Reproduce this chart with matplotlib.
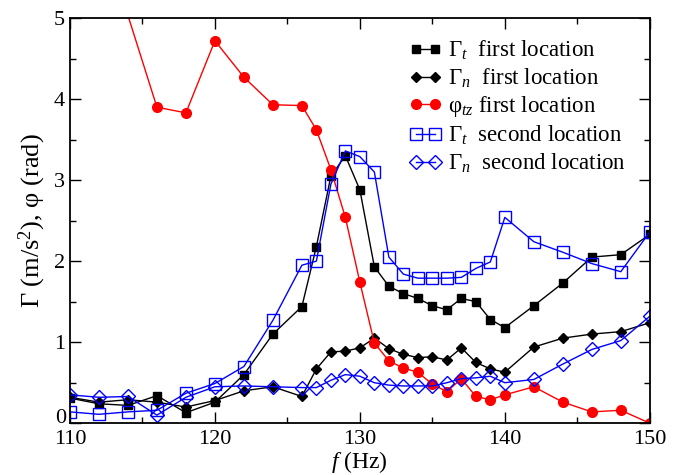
import numpy as np
import matplotlib
matplotlib.use('Agg')
import matplotlib.pyplot as plt
from matplotlib.ticker import MultipleLocator, FuncFormatter

plt.rcParams['font.family'] = ['Liberation Serif', 'DejaVu Serif']
plt.rcParams['mathtext.fontset'] = 'custom'
plt.rcParams['mathtext.rm'] = 'Liberation Serif'
plt.rcParams['mathtext.it'] = 'Liberation Serif:italic'

# --- data ---
f = [110, 112, 114, 116, 118, 120, 122, 124, 126, 127, 128, 129, 130, 131,
     132, 133, 134, 135, 136, 137, 138, 139, 140, 142, 144, 146, 148, 150]

gt_first = [0.31, 0.24, 0.22, 0.34, 0.13, 0.26, 0.60, 1.10, 1.44, 2.18, 3.05, 3.30, 2.88, 1.93,
            1.69, 1.60, 1.54, 1.45, 1.40, 1.54, 1.50, 1.28, 1.18, 1.45, 1.73, 2.05, 2.08, 2.33]
gn_first = [0.32, 0.26, 0.29, 0.26, 0.20, 0.28, 0.40, 0.45, 0.33, 0.67, 0.88, 0.89, 0.93, 1.05,
            0.92, 0.85, 0.81, 0.82, 0.78, 0.93, 0.75, 0.67, 0.63, 0.94, 1.05, 1.10, 1.13, 1.24]

f_phi = [110, 116, 118, 120, 122, 124, 126, 127, 128, 129, 130, 131,
         132, 133, 134, 135, 136, 137, 138, 139, 140, 142, 144, 146, 148, 150]
phi_first = [7.3, 3.90, 3.83, 4.72, 4.27, 3.93, 3.92, 3.62, 3.13, 2.54, 1.74, 0.99,
             0.77, 0.68, 0.63, 0.48, 0.39, 0.55, 0.33, 0.29, 0.35, 0.45, 0.26, 0.14, 0.16, 0.0]

gt_second = [0.14, 0.11, 0.14, 0.16, 0.37, 0.49, 0.70, 1.27, 1.95, 2.00, 2.95, 3.36, 3.29, 3.10,
             2.05, 1.84, 1.79, 1.79, 1.79, 1.80, 1.91, 1.99, 2.54, 2.24, 2.11, 1.97, 1.87, 2.36]
gn_second = [0.35, 0.32, 0.33, 0.10, 0.32, 0.45, 0.46, 0.45, 0.44, 0.44, 0.53, 0.60, 0.58, 0.50,
             0.47, 0.46, 0.46, 0.46, 0.50, 0.55, 0.56, 0.58, 0.50, 0.54, 0.73, 0.91, 1.02, 1.32]

fig = plt.figure(figsize=(6.79, 4.75), dpi=100)
ax = fig.add_axes([0.103, 0.109, 0.854, 0.853])

ax.plot(f, gt_first, color='black', lw=1, marker='s', ms=5.5, label=r'$\Gamma_t$  first location')
ax.plot(f, gn_first, color='black', lw=1, marker='D', ms=5, label=r'$\Gamma_n$  first location')
ax.plot(f_phi, phi_first, color='red', lw=1, marker='o', ms=7, label=r'$\mathrm{φ}_{tz}$ first location')
ax.plot(f, gt_second, color='blue', lw=1, marker='s', ms=8, mfc='none', mew=1,
        label=r'$\Gamma_t$  second location')
ax.plot(f, gn_second, color='blue', lw=1, marker='D', ms=7, mfc='none', mew=1,
        label=r'$\Gamma_n$  second location')

ax.set_xlim(110, 150)
ax.set_ylim(0, 5)
ax.xaxis.set_major_locator(MultipleLocator(10))
ax.xaxis.set_minor_locator(MultipleLocator(5))
ax.yaxis.set_major_locator(MultipleLocator(1))
ax.yaxis.set_minor_locator(MultipleLocator(0.5))
# "0" is drawn by hand below, a touch higher, so it doesn't sit on "110"
ax.yaxis.set_major_formatter(FuncFormatter(lambda v, p: '' if abs(v) < 1e-9 else '%d' % v))
ax.tick_params(which='both', direction='in', top=True, right=True, labelsize=16, width=1)
ax.tick_params(which='major', length=8)
ax.tick_params(which='minor', length=4)
ax.tick_params(axis='x', pad=5)
for s in ax.spines.values():
    s.set_linewidth(1.3)

ax.text(-0.006, 0.012, '0', transform=ax.transAxes, ha='right', va='center', fontsize=16)

ax.set_xlabel(r'$f$ (Hz)', fontsize=17, labelpad=0)
ax.set_ylabel('Γ (m/s$^2$), φ (rad)', fontsize=19, labelpad=4)

ax.legend(loc='upper right', frameon=False, fontsize=16.5, numpoints=2, handlelength=1.4,
          handletextpad=0.3, labelspacing=0.2, borderaxespad=0.5, bbox_to_anchor=(0.995, 1.0))

fig.savefig('out.png', dpi=100)
